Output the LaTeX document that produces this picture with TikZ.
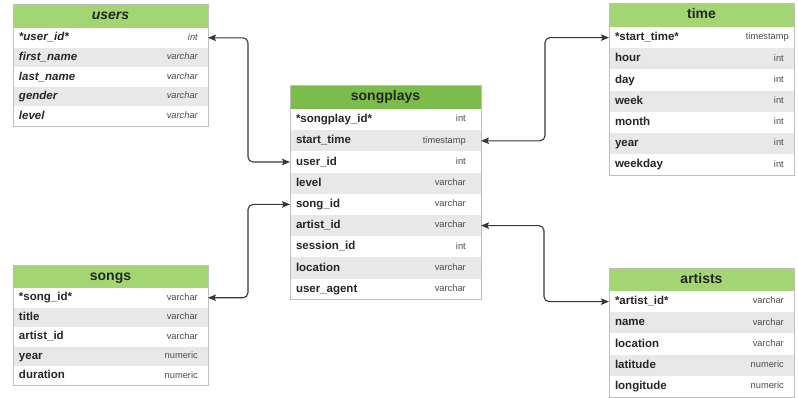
\documentclass[tikz,border=0pt]{standalone}
\usepackage{fontspec}
\setmainfont{Liberation Sans}
\usetikzlibrary{positioning,arrows.meta}

\definecolor{hdgreen}{RGB}{163,214,114}
\definecolor{spgreen}{RGB}{124,188,74}
\definecolor{rowgray}{RGB}{232,232,232}
\definecolor{tabline}{RGB}{190,190,190}
\definecolor{linkgray}{RGB}{55,55,55}

\begin{document}
\begin{tikzpicture}[x=1pt, y=-1pt, node distance=0pt,
  hd/.style = {fill=hdgreen, minimum height=24pt, inner xsep=6pt, inner ysep=0pt, outer sep=0pt, align=center, text height=10pt, text depth=3pt, font=\fontsize{14}{16}\selectfont\bfseries, text=black!85},
  fld/.style = {minimum height=#1, inner xsep=6pt, inner ysep=0pt, outer sep=0pt, align=left, text height=8.5pt, text depth=2.5pt, font=\fontsize{11.5}{13}\selectfont\bfseries, text=black!85},
  fld/.default = 21.2pt,
  whiterow/.style = {fill=white},
  grayrow/.style = {fill=rowgray},
  leftcol/.style = {text width=183pt},
  midcol/.style = {text width=179pt},
  rightcol/.style = {text width=173pt},
  typ/.style = {anchor=east, inner sep=0pt, xshift=-10pt, text height=6.5pt, text depth=2pt, font=\fontsize{9.3}{10}\selectfont, text=black!70},
  sptyp/.style = {typ, xshift=-5pt},
  tabframe/.style = {draw=tabline, line width=0.8pt},
  link/.style = {{Stealth[length=8pt,width=6.5pt,inset=1.5pt]}-{Stealth[length=8pt,width=6.5pt,inset=1.5pt]}, draw=linkgray, line width=1.1pt, rounded corners=5pt}]

\useasboundingbox (0,0) rectangle (798,397);

% users
\node[hd, leftcol, anchor=north west] (users) at (13,4) {\itshape users};
\node[fld=19.6pt, leftcol, whiterow, below=of users, label={[typ]east:\itshape int}] (u1) {\itshape *user\_id*};
\node[fld=19.6pt, leftcol, grayrow, below=of u1, label={[typ]east:\itshape varchar}] (u2) {\itshape first\_name};
\node[fld=19.6pt, leftcol, whiterow, below=of u2, label={[typ]east:\itshape varchar}] (u3) {\itshape last\_name};
\node[fld=19.6pt, leftcol, grayrow, below=of u3, label={[typ]east:\itshape varchar}] (u4) {\itshape gender};
\node[fld=19.6pt, leftcol, whiterow, below=of u4, label={[typ]east:\itshape varchar}] (u5) {\itshape level};
\draw[tabframe] (users.north west) rectangle (u5.south east);

% songs
\node[hd, leftcol, anchor=north west, minimum height=23pt] (songs) at (13,265) {songs};
\node[fld=19.5pt, leftcol, whiterow, below=of songs, label={[typ]east:varchar}] (s1) {*song\_id*};
\node[fld=19.5pt, leftcol, grayrow, below=of s1, label={[typ]east:varchar}] (s2) {title};
\node[fld=19.5pt, leftcol, whiterow, below=of s2, label={[typ]east:varchar}] (s3) {artist\_id};
\node[fld=19.5pt, leftcol, grayrow, below=of s3, label={[typ]east:numeric}] (s4) {year};
\node[fld=19.5pt, leftcol, whiterow, below=of s4, label={[typ]east:numeric}] (s5) {duration};
\draw[tabframe] (songs.north west) rectangle (s5.south east);

% songplays
\node[hd, midcol, fill=spgreen, anchor=north west] (songplays) at (290,85) {songplays};
\node[fld, midcol, whiterow, below=of songplays, label={[sptyp]east:int}] (p1) {*songplay\_id*};
\node[fld, midcol, grayrow, below=of p1, label={[sptyp]east:timestamp}] (p2) {start\_time};
\node[fld, midcol, whiterow, below=of p2, label={[sptyp]east:int}] (p3) {user\_id};
\node[fld, midcol, grayrow, below=of p3, label={[sptyp]east:varchar}] (p4) {level};
\node[fld, midcol, whiterow, below=of p4, label={[sptyp]east:varchar}] (p5) {song\_id};
\node[fld, midcol, grayrow, below=of p5, label={[sptyp]east:varchar}] (p6) {artist\_id};
\node[fld, midcol, whiterow, below=of p6, label={[sptyp]east:int}] (p7) {session\_id};
\node[fld, midcol, grayrow, below=of p7, label={[sptyp]east:varchar}] (p8) {location};
\node[fld, midcol, whiterow, below=of p8, label={[sptyp]east:varchar}] (p9) {user\_agent};
\draw[tabframe] (songplays.north west) rectangle (p9.south east);

% time
\node[hd, rightcol, anchor=north west] (time) at (609,3) {time};
\node[fld, rightcol, whiterow, below=of time, label={[typ,xshift=5pt]east:timestamp}] (t1) {*start\_time*};
\node[fld, rightcol, grayrow, below=of t1, label={[typ]east:int}] (t2) {hour};
\node[fld, rightcol, whiterow, below=of t2, label={[typ]east:int}] (t3) {day};
\node[fld, rightcol, grayrow, below=of t3, label={[typ]east:int}] (t4) {week};
\node[fld, rightcol, whiterow, below=of t4, label={[typ]east:int}] (t5) {month};
\node[fld, rightcol, grayrow, below=of t5, label={[typ]east:int}] (t6) {year};
\node[fld, rightcol, whiterow, below=of t6, label={[typ]east:int}] (t7) {weekday};
\draw[tabframe] (time.north west) rectangle (t7.south east);

% artists
\node[hd, rightcol, anchor=north west, minimum height=23pt] (artists) at (609,268) {artists};
\node[fld, rightcol, whiterow, below=of artists, label={[typ]east:varchar}] (a1) {*artist\_id*};
\node[fld, rightcol, grayrow, below=of a1, label={[typ]east:varchar}] (a2) {name};
\node[fld, rightcol, whiterow, below=of a2, label={[typ]east:varchar}] (a3) {location};
\node[fld, rightcol, grayrow, below=of a3, label={[typ]east:numeric}] (a4) {latitude};
\node[fld, rightcol, whiterow, below=of a4, label={[typ]east:numeric}] (a5) {longitude};
\draw[tabframe] (artists.north west) rectangle (a5.south east);

% links
\draw[link] (u1.east) -- ++(40,0) |- (p3.west);
\draw[link] (s1.east) -- ++(40,0) |- (p5.west);
\draw[link] (p2.east) -- ++(64,0) |- (t1.west);
\draw[link] (p6.east) -- ++(63,0) |- (a1.west);
\end{tikzpicture}
\end{document}
